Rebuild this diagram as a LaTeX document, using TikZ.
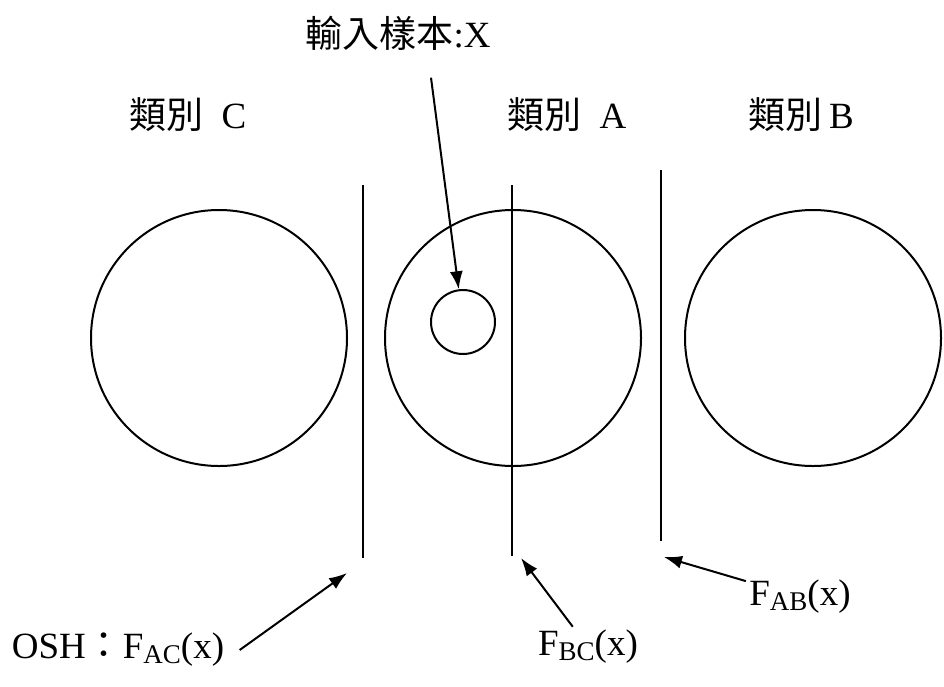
\documentclass[tikz,border=0pt]{standalone}
\usepackage{fontspec}
\setmainfont{Liberation Serif}
\newfontfamily\cjk{Noto Sans CJK TC}
\usetikzlibrary{arrows.meta,positioning}
\newcommand{\lowsub}[1]{{\fontsize{27}{27}\selectfont\raisebox{-5pt}{#1}}}

\begin{document}
\begin{tikzpicture}[x=1pt,y=-1pt,
  every node/.style={font=\fontsize{37}{40}\selectfont},
  cls/.style={circle,draw,line width=2pt,inner sep=0pt,minimum size=256pt},
  sep/.style={line width=2pt},
  arr/.style={-{Latex[length=18pt,width=13pt]},line width=2pt}]
\useasboundingbox (0,0) rectangle (944,686);

% class regions
\node[cls] (regC) at (219,338) {};
\node[cls] (regA) at (513,338) {};
\node[cls] (regB) at (813,338) {};
\node[circle,draw,line width=2pt,inner sep=0pt,minimum size=64pt] (sample) at (463,322) {};

\node (labC) at (188,115) {{\cjk 類別}\hspace{18pt}C};
\node (labA) at (567,115) {{\cjk 類別}\hspace{18pt}A};
\node (labB) at (801,115) {{\cjk 類別}\hspace{7pt}B};
\node (inp) at (398,33) {{\cjk 輸入樣本}:X};

% separating hyperplanes
\coordinate (acTop) at (363,185);
\coordinate (acBot) at (363,558);
\coordinate (bcTop) at (512,185);
\coordinate (bcBot) at (512,556);
\coordinate (abTop) at (661,170);
\coordinate (abBot) at (661,541);
\draw[sep] (acTop) -- (acBot);
\draw[sep] (bcTop) -- (bcBot);
\draw[sep] (abTop) -- (abBot);

% labels of the hyperplanes
\node (osh) at (118,650) {OSH{\cjk ：}F\lowsub{AC}(x)};
\node (fbc) at (588,647) {F\lowsub{BC}(x)};
\node (fab) at (800,597) {F\lowsub{AB}(x)};

\coordinate (acTip) at (347,573);
\coordinate (bcTip) at (521,558);
\coordinate (abTip) at (664,557);
\draw[arr] ([xshift=12pt]osh.east) -- (acTip);
\draw[arr] (fbc) -- (bcTip);
\draw[arr] (fab) -- (abTip);
\draw[arr] ([xshift=33pt,yshift=-24pt]inp.south) -- (sample);
\end{tikzpicture}
\end{document}
